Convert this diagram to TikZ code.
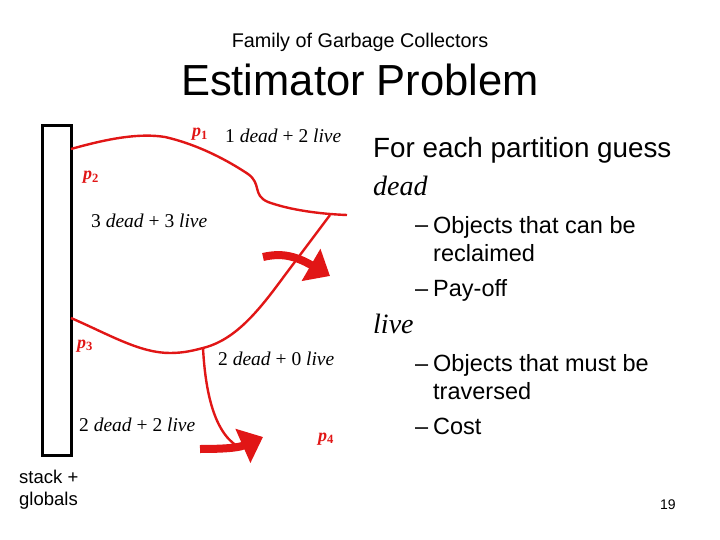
\documentclass[tikz,border=0pt]{standalone}
\usepackage{fontspec}
\setmainfont{Liberation Serif}
\setsansfont{Liberation Sans}
\usepackage{xcolor}
\usetikzlibrary{positioning,arrows.meta,calc}
\definecolor{gcred}{RGB}{225,22,22}
\newcommand{\pname}[1]{p\textsubscript{\upshape #1}}

\begin{document}
\begin{tikzpicture}[x=1pt, y=-1pt, font=\sffamily,
    txt/.style={anchor=base west, inner sep=0pt},
    part/.style={txt, font=\rmfamily\fontsize{19.5}{20}\selectfont},
    plabel/.style={txt, text=gcred, font=\rmfamily\bfseries\itshape\fontsize{18}{20}\selectfont},
    bullet/.style={txt, align=left, font=\sffamily\fontsize{23.5}{28}\selectfont},
    heap/.style={draw=gcred, line width=2.4pt},
    bigarrow/.style={draw=gcred, line width=8pt, -{Triangle[length=22pt,width=36pt]}}]
    \useasboundingbox (0,0) rectangle (720,540);

    % titles
    \node[anchor=base, inner sep=0pt, font=\sffamily\fontsize{19.8}{20}\selectfont] (family) at (360,48) {Family of Garbage Collectors};
    \node[anchor=base, inner sep=0pt, font=\sffamily\fontsize{43.5}{46}\selectfont] (title) at (360,96) {Estimator Problem};

    % stack + globals
    \node[draw, line width=3pt, minimum width=29pt, minimum height=329pt, inner sep=0pt] (stack) at (56.5,290.5) {};
    \node[txt, align=left, font=\sffamily\fontsize{18.5}{22}\selectfont] (roots) at (19,505) {stack +\\globals};

    % partitions
    \coordinate (j1) at (330,215);
    \coordinate (j2) at (203,348);
    \draw[heap] (71,149) .. controls (110,138) and (140,133) .. (165,137)
        .. controls (200,145) and (230,162) .. (248,174)
        .. controls (262,184) and (252,195) .. (268,202)
        .. controls (290,210) and (320,214) .. (347,215);
    \draw[heap] (j1) -- (285,275) .. controls (258,312) and (235,340) .. (j2);
    \draw[heap] (71,318) .. controls (110,335) and (140,353) .. (170,353)
        .. controls (185,353) and (195,350) .. (j2);
    \draw[heap] (j2) .. controls (205,385) and (212,430) .. (237,446);

    % thick arrows
    \draw[bigarrow] (263,257) .. controls (280,253) and (294,255) .. (330,276);
    \draw[bigarrow] (200,449) .. controls (222,449) and (238,448) .. (263,437);

    % labels
    \node[plabel] (p1) at (192,137) {\pname{1}};
    \node[plabel] (p2) at (83,180) {\pname{2}};
    \node[plabel] (p3) at (77,348) {\pname{3}};
    \node[plabel] (p4) at (318,441) {\pname{4}};
    \node[part] (part1) at (225,143) {1 \textit{dead} + 2 \textit{live}};
    \node[part] (part2) at (91,227) {3 \textit{dead} + 3 \textit{live}};
    \node[part] (part3) at (218,365) {2 \textit{dead} + 0 \textit{live}};
    \node[part] (part4) at (79,431) {2 \textit{dead} + 2 \textit{live}};

    % right column
    \node[txt, font=\sffamily\fontsize{27.8}{30}\selectfont] (guess) at (373,158) {For each partition guess};
    \node[txt, font=\rmfamily\itshape\fontsize{28}{30}\selectfont] (dead) at (373,196) {dead};
    \foreach \y/\name in {233/dashA,296/dashB,371/dashC,434/dashD}{\node[bullet] (\name) at (415,\y) {--};}
    \node[bullet] (reclaim) at (433,261) {Objects that can be\\reclaimed};
    \node[bullet] (payoff) at (433,296) {Pay-off};
    \node[txt, font=\rmfamily\itshape\fontsize{28}{30}\selectfont] (live) at (373,333) {live};
    \node[bullet] (traverse) at (433,399) {Objects that must be\\traversed};
    \node[bullet] (cost) at (433,434) {Cost};

    \node[txt, font=\sffamily\fontsize{14}{16}\selectfont] (page) at (660,509) {19};
\end{tikzpicture}
\end{document}
